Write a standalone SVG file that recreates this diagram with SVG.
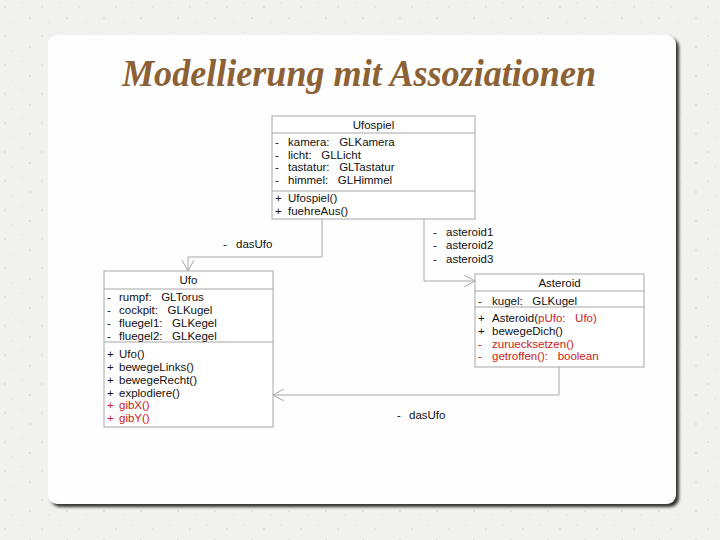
<svg xmlns="http://www.w3.org/2000/svg" width="720" height="540" viewBox="0 0 720 540">
<defs>
<marker id="open" markerUnits="userSpaceOnUse" markerWidth="12" markerHeight="12" refX="11" refY="6" orient="auto">
<path d="M0,0 L11,6 L0,12" fill="none" stroke="#a8a8a8" stroke-width="1"/>
</marker>
<filter id="sh" x="-5%" y="-5%" width="110%" height="110%"><feGaussianBlur stdDeviation="1.5"/></filter>
<pattern id="speck" width="37" height="29" patternUnits="userSpaceOnUse">
<rect width="37" height="29" fill="#f1f1ef"/>
<circle cx="5" cy="7" r="0.7" fill="#c8c8c8"/><circle cx="22" cy="3" r="0.5" fill="#d0d0d0"/>
<circle cx="30" cy="18" r="0.7" fill="#c4c4c4"/><circle cx="12" cy="22" r="0.5" fill="#cfcfcf"/>
<circle cx="18" cy="13" r="0.4" fill="#d6d6d6"/>
</pattern>
</defs>
<style>
.t{font-family:"Liberation Sans",Arial,sans-serif;font-size:11.5px;fill:#111}
.r{fill:#cc2020}
.box{fill:#fff;stroke:#a6a6a6;stroke-width:1}
.div{stroke:#a6a6a6;stroke-width:1}
.c{fill:none;stroke:#a8a8a8;stroke-width:1}
.h{text-anchor:middle}
.title{font-family:"Times New Roman","Liberation Serif",serif;font-style:italic;font-weight:bold;font-size:37px;fill:#8c6136}
</style>
<rect width="720" height="540" fill="url(#speck)"/>
<rect x="51" y="38" width="628" height="469" rx="9" fill="#333" filter="url(#sh)"/>
<rect x="48" y="35" width="628" height="469" rx="9" fill="#fefefe"/>
<text class="title" x="359" y="86" text-anchor="middle" textLength="474" lengthAdjust="spacingAndGlyphs">Modellierung mit Assoziationen</text>

<g id="connectors">
<path class="c" d="M322,219 V257 H188 V271" marker-end="url(#open)"/>
<path class="c" d="M424,219 V281 H475" marker-end="url(#open)"/>
<path class="c" d="M559,367 V395 H273" marker-end="url(#open)"/>
<text class="t" x="223" y="248">-</text><text class="t" x="236" y="248">dasUfo</text>
<text class="t" x="433" y="236">-</text><text class="t" x="446" y="236">asteroid1</text>
<text class="t" x="433" y="249">-</text><text class="t" x="446" y="249">asteroid2</text>
<text class="t" x="433" y="263">-</text><text class="t" x="446" y="263">asteroid3</text>
<text class="t" x="397" y="419">-</text><text class="t" x="409" y="419">dasUfo</text>
</g>

<g id="Ufospiel">
<rect class="box" x="272" y="116" width="203" height="103"/>
<line class="div" x1="272" y1="133" x2="475" y2="133"/>
<line class="div" x1="272" y1="191" x2="475" y2="191"/>
<text class="t h" x="373.5" y="129">Ufospiel</text>
<text class="t" x="275" y="146">-</text><text class="t" x="288" y="146" xml:space="preserve">kamera:   GLKamera</text>
<text class="t" x="275" y="159">-</text><text class="t" x="288" y="159" xml:space="preserve">licht:   GLLicht</text>
<text class="t" x="275" y="171">-</text><text class="t" x="288" y="171" xml:space="preserve">tastatur:   GLTastatur</text>
<text class="t" x="275" y="184">-</text><text class="t" x="288" y="184" xml:space="preserve">himmel:   GLHimmel</text>
<text class="t" x="275" y="202">+</text><text class="t" x="288" y="202">Ufospiel()</text>
<text class="t" x="275" y="215">+</text><text class="t" x="288" y="215">fuehreAus()</text>
</g>

<g id="Ufo">
<rect class="box" x="104" y="271" width="169" height="156"/>
<line class="div" x1="104" y1="289" x2="273" y2="289"/>
<line class="div" x1="104" y1="342" x2="273" y2="342"/>
<text class="t h" x="188.5" y="284">Ufo</text>
<text class="t" x="107" y="301">-</text><text class="t" x="119" y="301" xml:space="preserve">rumpf:   GLTorus</text>
<text class="t" x="107" y="314">-</text><text class="t" x="119" y="314" xml:space="preserve">cockpit:   GLKugel</text>
<text class="t" x="107" y="327">-</text><text class="t" x="119" y="327" xml:space="preserve">fluegel1:   GLKegel</text>
<text class="t" x="107" y="340">-</text><text class="t" x="119" y="340" xml:space="preserve">fluegel2:   GLKegel</text>
<text class="t" x="107" y="358">+</text><text class="t" x="119" y="358">Ufo()</text>
<text class="t" x="107" y="371">+</text><text class="t" x="119" y="371">bewegeLinks()</text>
<text class="t" x="107" y="384">+</text><text class="t" x="119" y="384">bewegeRecht()</text>
<text class="t" x="107" y="396.5">+</text><text class="t" x="119" y="396.5">explodiere()</text>
<text class="t r" x="107" y="409">+</text><text class="t r" x="119" y="409">gibX()</text>
<text class="t r" x="107" y="422">+</text><text class="t r" x="119" y="422">gibY()</text>
</g>

<g id="Asteroid">
<rect class="box" x="475" y="274" width="169" height="93"/>
<line class="div" x1="475" y1="291" x2="644" y2="291"/>
<line class="div" x1="475" y1="307" x2="644" y2="307"/>
<text class="t h" x="559.5" y="287">Asteroid</text>
<text class="t" x="478" y="305">-</text><text class="t" x="492" y="305" xml:space="preserve">kugel:   GLKugel</text>
<text class="t" x="478" y="322">+</text><text class="t" x="492" y="322" xml:space="preserve">Asteroid(<tspan class="r">pUfo:   Ufo)</tspan></text>
<text class="t" x="478" y="335">+</text><text class="t" x="492" y="335">bewegeDich()</text>
<text class="t r" x="478" y="347.5">-</text><text class="t r" x="492" y="347.5">zuruecksetzen()</text>
<text class="t r" x="478" y="360">-</text><text class="t r" x="492" y="360" xml:space="preserve">getroffen():   boolean</text>
</g>
</svg>
